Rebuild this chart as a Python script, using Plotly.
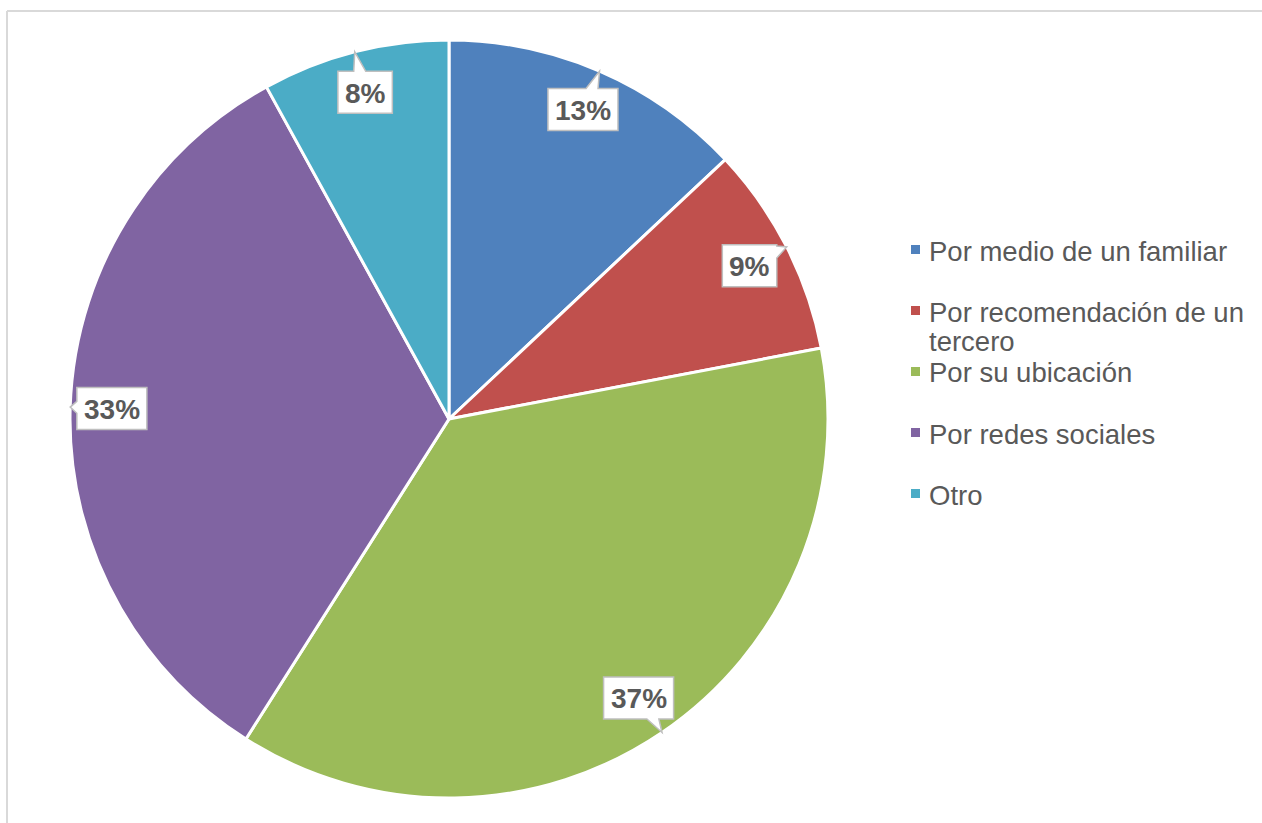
import math
import textwrap
import plotly.graph_objects as go

# Survey answers: how respondents found out about the place
categories = [
    "Por medio de un familiar",
    "Por recomendación de un tercero",
    "Por su ubicación",
    "Por redes sociales",
    "Otro",
]
shares = [13, 9, 37, 33, 8]
colors = ["#4F81BD", "#C0504D", "#9BBB59", "#8064A2", "#4BACC6"]

W, H = 1262, 823
CX, CY, R = 449, 419, 379          # pie centre and radius, pixels
FONT = "Liberation Sans, Arial, sans-serif"
TEXT_COLOR = "#595959"
LABEL_FS = 28
LEGEND_FS = 27.5


def px(x):
    return x / W


def py(y):
    return 1 - y / H


def callout_path(bx, by, hw, hh, tx, ty, notch=6):
    """Rectangle centred on (bx, by) with a pointer towards (tx, ty); pixel input, paper output."""
    dx, dy = tx - bx, ty - by
    t_x = hw / abs(dx) if dx else math.inf
    t_y = hh / abs(dy) if dy else math.inf
    t = min(t_x, t_y)
    ex, ey = bx + dx * t, by + dy * t
    l, r, top, bot = bx - hw, bx + hw, by - hh, by + hh
    tip = (tx, ty)
    if t_x < t_y:
        ey = min(max(ey, top + notch), bot - notch)
        edge = "right" if dx > 0 else "left"
    else:
        ex = min(max(ex, l + notch), r - notch)
        edge = "bottom" if dy > 0 else "top"
    pts = [(l, top)]
    if edge == "top":
        pts += [(ex - notch, top), tip, (ex + notch, top)]
    pts.append((r, top))
    if edge == "right":
        pts += [(r, ey - notch), tip, (r, ey + notch)]
    pts.append((r, bot))
    if edge == "bottom":
        pts += [(ex + notch, bot), tip, (ex - notch, bot)]
    pts.append((l, bot))
    if edge == "left":
        pts += [(l, ey + notch), tip, (l, ey - notch)]
    return "M " + " L ".join(f"{px(x):.5f},{py(y):.5f}" for x, y in pts) + " Z"


fig = go.Figure(
    go.Pie(
        labels=categories,
        values=shares,
        sort=False,
        direction="clockwise",
        rotation=0,
        marker=dict(colors=colors, line=dict(color="white", width=3)),
        textinfo="none",
        hoverinfo="label+percent",
        showlegend=False,
        domain=dict(x=[px(CX - R), px(CX + R)], y=[py(CY + R), py(CY - R)]),
    )
)

# Percentage callouts placed along each slice's mid-angle
total = sum(shares)
cum = 0
for v in shares:
    mid = (cum + v / 2) / total * 2 * math.pi
    cum += v
    text = f"{round(v / total * 100)}%"
    ux, uy = math.sin(mid), -math.cos(mid)
    bx, by = CX + 0.89 * R * ux, CY + 0.89 * R * uy
    tx, ty = CX + R * ux, CY + R * uy
    tw = LABEL_FS * (0.556 * (len(text) - 1) + 0.889)
    fig.add_shape(
        type="path",
        path=callout_path(bx, by, tw / 2 + 7, 21, tx, ty),
        xref="paper", yref="paper",
        fillcolor="white",
        line=dict(color="#BFBFBF", width=1.5),
        layer="above",
    )
    fig.add_annotation(
        x=px(bx), y=py(by + 1), xref="paper", yref="paper",
        text=f"<b>{text}</b>", showarrow=False,
        xanchor="center", yanchor="middle",
        font=dict(family=FONT, size=LABEL_FS, color=TEXT_COLOR),
    )

# Legend on the right
LEG_X, LEG_Y0, LEG_STEP, LINE_STEP = 927, 249, 61, 29
for i, (name, col) in enumerate(zip(categories, colors)):
    y = LEG_Y0 + i * LEG_STEP
    fig.add_shape(
        type="rect", xref="paper", yref="paper",
        x0=px(911), x1=px(920), y0=py(y + 5), y1=py(y - 4),
        fillcolor=col, line_width=0,
    )
    for j, line in enumerate(textwrap.wrap(name, 24)):
        fig.add_annotation(
            x=px(LEG_X), y=py(y + j * LINE_STEP + 2), xref="paper", yref="paper",
            text=line, showarrow=False, xanchor="left", yanchor="middle",
            font=dict(family=FONT, size=LEGEND_FS, color=TEXT_COLOR),
        )

# Chart frame
frame = dict(color="#D9D9D9", width=2)
fig.add_shape(type="line", xref="paper", yref="paper",
              x0=px(7), x1=1.01, y0=py(11), y1=py(11), line=frame)
fig.add_shape(type="line", xref="paper", yref="paper",
              x0=px(7), x1=px(7), y0=py(11), y1=-0.01, line=frame)

fig.update_layout(
    width=W, height=H,
    margin=dict(l=0, r=0, t=0, b=0),
    paper_bgcolor="white",
    plot_bgcolor="white",
    showlegend=False,
)

fig.write_html("out.html")
